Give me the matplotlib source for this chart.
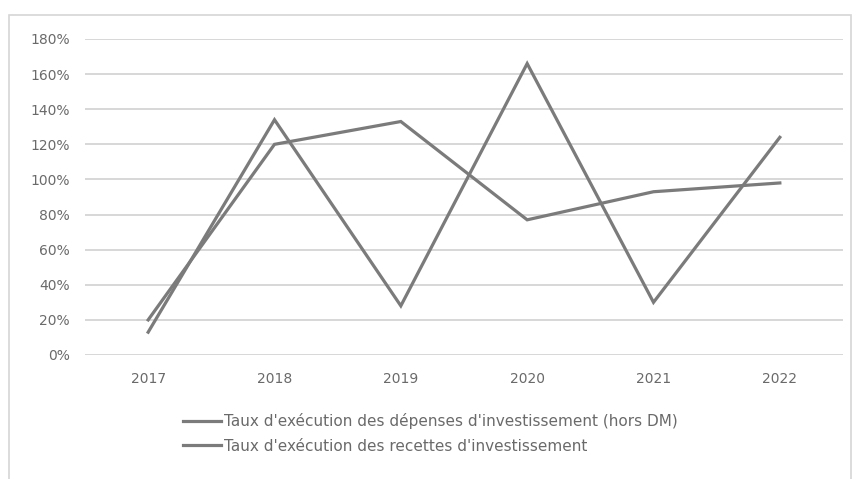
import matplotlib
matplotlib.use("Agg")
import matplotlib.pyplot as plt
from matplotlib.patches import Rectangle
from matplotlib.ticker import FuncFormatter, MultipleLocator

years = ["2017", "2018", "2019", "2020", "2021", "2022"]
depenses = [0.13, 1.34, 0.28, 1.66, 0.30, 1.24]
recettes = [0.20, 1.20, 1.33, 0.77, 0.93, 0.98]
labels = ["Taux d'exécution des dépenses d'investissement (hors DM)",
          "Taux d'exécution des recettes d'investissement"]

W, H = 854, 479
fig = plt.figure(figsize=(W / 100, H / 100), dpi=100)
fig.patch.set_facecolor("white")

# chart border
fig.patches.append(Rectangle((9 / W, -0.05), (851 - 9) / W, 1.05 - 15 / H,
                             transform=fig.transFigure, fill=False,
                             edgecolor="#d6d6d6", linewidth=1.2))

left, right = 85 / W, 843 / W
bottom, top = 1 - 355 / H, 1 - 39 / H
ax = fig.add_axes([left, bottom, right - left, top - bottom])

x = list(range(len(years)))
line_color = "#7b7b7b"
ax.plot(x, depenses, color=line_color, linewidth=2.3, label=labels[0], solid_joinstyle="miter")
ax.plot(x, recettes, color=line_color, linewidth=2.3, label=labels[1], solid_joinstyle="miter")

ax.set_xlim(-0.5, 5.5)
ax.set_ylim(0, 1.8)
ax.yaxis.set_major_locator(MultipleLocator(0.2))
ax.yaxis.set_major_formatter(FuncFormatter(lambda v, p: f"{round(v * 100):d}%"))
ax.set_xticks(x)
ax.set_xticklabels(years)
ax.grid(axis="y", color="#d4d4d4", linewidth=1.3)
ax.set_axisbelow(True)
for s in ax.spines.values():
    s.set_visible(False)
ax.tick_params(axis="both", length=0, colors="#6a6a6a", labelsize=10)
ax.tick_params(axis="y", pad=11)
ax.tick_params(axis="x", pad=12)

fig.legend(loc="center left", bbox_to_anchor=(183 / W, 1 - 433.5 / H), frameon=False,
           fontsize=11, labelcolor="#6a6a6a", handlelength=2.5, handletextpad=0.2,
           labelspacing=0.6, borderaxespad=0, borderpad=0)

fig.savefig("out.png", dpi=100, facecolor="white")
